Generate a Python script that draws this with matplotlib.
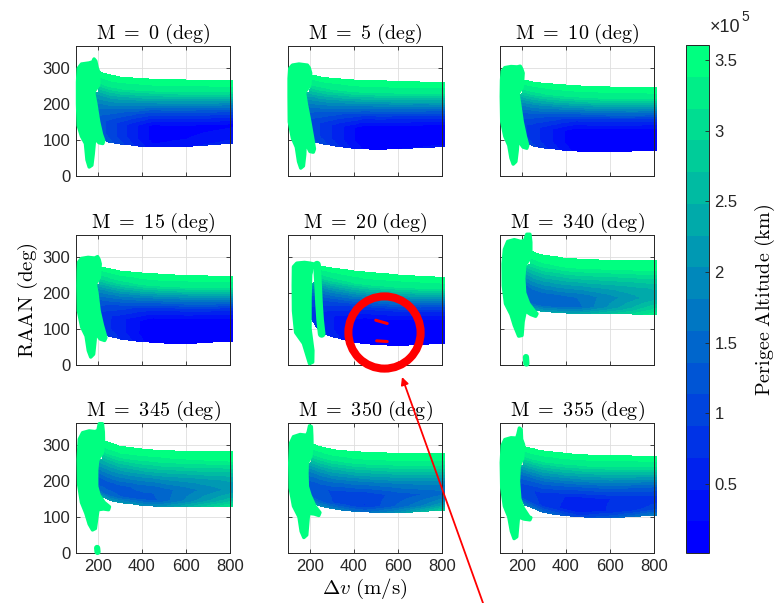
import numpy as np
import matplotlib
matplotlib.use('Agg')
import matplotlib.pyplot as plt
from matplotlib.cm import ScalarMappable
from matplotlib.colors import Normalize

plt.rcParams['mathtext.fontset'] = 'cm'
plt.rcParams['font.family'] = ['Liberation Sans', 'DejaVu Sans']

# panel order: left->right, top->bottom
m_deg = [0, 5, 10, 15, 20, 340, 345, 350, 355]

# cloud boundaries (RAAN, deg) read at these delta-v nodes (m/s)
dv_nodes = [200, 250, 300, 400, 500, 600, 700, 800]
top_raan = [
    [292, 282, 276, 271, 268, 267, 266, 265],
    [282, 276, 272, 267, 265, 263, 262, 260],
    [268, 262, 258, 253, 250, 248, 246, 245],
    [275, 268, 262, 256, 252, 250, 248, 247],
    [280, 276, 270, 262, 256, 251, 247, 244],
    [322, 315, 305, 297, 293, 291, 290, 289],
    [318, 308, 297, 289, 285, 283, 282, 281],
    [305, 296, 288, 282, 279, 277, 276, 276],
    [298, 290, 284, 277, 273, 271, 270, 269],
]
bot_raan = [
    [105, 92, 87, 81, 80, 81, 84, 89],
    [98, 88, 83, 75, 72, 74, 77, 80],
    [92, 82, 76, 70, 66, 66, 68, 71],
    [88, 78, 71, 63, 60, 59, 61, 65],
    [95, 88, 77, 62, 55, 53, 55, 60],
    [175, 152, 146, 143, 143, 142, 140, 140],
    [160, 145, 138, 131, 127, 127, 128, 129],
    [140, 128, 121, 114, 111, 110, 113, 118],
    [135, 122, 110, 102, 97, 96, 99, 104],
]
# left edge of the cloud: RAAN -> delta-v
left_raan = [
    [95, 150, 200, 231, 234, 300],
    [90, 150, 200, 231, 234, 300],
    [80, 150, 200, 226, 229, 300],
    [70, 150, 200, 222, 225, 300],
    [80, 100, 126, 200, 227, 230, 300],
    [140, 165, 200, 240, 275, 280, 340],
    [125, 150, 184, 258, 262, 330],
    [110, 140, 184, 248, 252, 320],
    [95, 130, 151, 198, 240, 244, 310],
]
left_dv = [
    [226, 200, 188, 181, 200, 205],
    [222, 196, 180, 175, 198, 203],
    [230, 198, 186, 182, 200, 205],
    [240, 202, 192, 188, 206, 211],
    [262, 232, 205, 200, 207, 228, 232],
    [268, 235, 215, 210, 215, 235, 240],
    [252, 218, 194, 201, 220, 225],
    [248, 218, 188, 188, 205, 210],
    [245, 212, 191, 185, 188, 205, 210],
]

# perigee altitude (1e5 km) across the cloud, bottom (0) -> top (1)
f_nodes = [0, 0.12, 0.3, 0.48, 0.65, 0.82, 1.0]
alt_left = [
    [1.5, 1.3, 1.3, 1.7, 2.3, 3.2, 3.6],
    [1.3, 1.1, 1.1, 1.5, 2.2, 3.1, 3.6],
    [1.2, 1.0, 1.0, 1.4, 2.1, 3.1, 3.6],
    [1.1, 0.9, 0.9, 1.3, 2.0, 3.0, 3.6],
    [1.0, 0.8, 0.8, 1.2, 1.9, 3.0, 3.6],
    [2.4, 1.5, 1.4, 2.0, 2.6, 3.3, 3.6],
    [2.3, 1.4, 1.3, 1.9, 2.5, 3.3, 3.6],
    [2.1, 1.3, 1.2, 1.7, 2.4, 3.2, 3.6],
    [1.9, 1.1, 1.0, 1.5, 2.3, 3.2, 3.6],
]
alt_mid = [
    [0.3, 0.15, 0.15, 1.0, 2.1, 3.2, 3.6],
    [0.2, 0.05, 0.05, 0.9, 2.0, 3.2, 3.6],
    [0.15, 0.03, 0.03, 0.8, 2.0, 3.2, 3.6],
    [0.1, 0.02, 0.03, 0.75, 1.9, 3.2, 3.6],
    [0.05, 0.02, 0.03, 0.7, 1.9, 3.2, 3.6],
    [2.3, 1.5, 1.6, 2.2, 2.8, 3.4, 3.6],
    [2.0, 1.3, 1.4, 2.0, 2.7, 3.3, 3.6],
    [1.6, 0.9, 1.0, 1.7, 2.5, 3.3, 3.6],
    [1.1, 0.5, 0.6, 1.4, 2.3, 3.2, 3.6],
]
alt_right = [
    [0.6, 0.35, 0.2, 1.0, 2.1, 3.2, 3.6],
    [0.3, 0.1, 0.05, 0.9, 2.0, 3.2, 3.6],
    [0.2, 0.05, 0.03, 0.8, 2.0, 3.2, 3.6],
    [0.15, 0.03, 0.03, 0.75, 1.9, 3.2, 3.6],
    [0.1, 0.02, 0.03, 0.7, 1.9, 3.2, 3.6],
    [3.3, 2.9, 2.4, 2.5, 2.9, 3.4, 3.6],
    [3.2, 2.6, 2.1, 2.3, 2.8, 3.4, 3.6],
    [2.9, 2.1, 1.5, 1.9, 2.6, 3.3, 3.6],
    [1.8, 1.0, 0.8, 1.4, 2.3, 3.2, 3.6],
]

# high-perigee "hook" solutions near dv ~ 100-250 (delta-v, RAAN)
hook_outline = [
    [(110, 298), (125, 310), (160, 313), (176, 316), (182, 324), (190, 318), (196, 300), (205, 285),
     (203, 252), (183, 235), (181, 228), (190, 200), (203, 150), (216, 115), (226, 98), (222, 90),
     (205, 92), (185, 105), (178, 60), (172, 30), (160, 25), (150, 45), (143, 90), (125, 110),
     (110, 140), (107, 200), (107, 260)],
    [(108, 298), (120, 307), (150, 310), (175, 308), (188, 307), (196, 300), (203, 285), (199, 250),
     (178, 234), (175, 231), (183, 200), (199, 150), (212, 105), (220, 75), (215, 66), (200, 68),
     (178, 95), (176, 60), (170, 28), (158, 22), (148, 40), (138, 80), (120, 105), (106, 150),
     (105, 220), (105, 270)],
    [(110, 290), (122, 300), (150, 303), (178, 302), (192, 304), (199, 296), (205, 285), (201, 246),
     (184, 230), (182, 226), (189, 200), (201, 150), (215, 110), (226, 85), (222, 77), (205, 80),
     (182, 100), (178, 70), (172, 40), (160, 33), (150, 50), (140, 85), (122, 110), (108, 150),
     (106, 220), (107, 265)],
    [(112, 285), (125, 295), (155, 298), (185, 296), (198, 300), (205, 292), (210, 280), (206, 242),
     (190, 226), (188, 222), (195, 200), (205, 150), (220, 110), (236, 76), (230, 68), (210, 72),
     (188, 90), (187, 70), (180, 30), (167, 22), (156, 40), (146, 80), (126, 105), (111, 150),
     (109, 220), (110, 260)],
    [(125, 272), (140, 282), (175, 284), (200, 282), (215, 280), (224, 276), (210, 268), (203, 250),
     (200, 180), (200, 100), (213, 40), (212, 8), (198, 4), (185, 30), (170, 60), (135, 90),
     (125, 150), (124, 220)],
    [(120, 320), (135, 342), (165, 347), (195, 342), (212, 345), (222, 362), (236, 362), (240, 340),
     (240, 310), (238, 298), (218, 280), (212, 275), (208, 240), (212, 200), (230, 170), (255, 150),
     (268, 142), (262, 135), (240, 140), (215, 150), (205, 120), (200, 82), (185, 80), (165, 110),
     (150, 140), (125, 170), (115, 220), (114, 280)],
    [(115, 315), (130, 333), (160, 338), (188, 336), (200, 340), (206, 358), (220, 358), (224, 335),
     (225, 305), (220, 278), (204, 263), (198, 255), (194, 230), (194, 184), (205, 160), (228, 140),
     (252, 128), (248, 120), (225, 122), (200, 120), (195, 100), (188, 68), (175, 64), (160, 80),
     (145, 110), (125, 140), (112, 190), (110, 260)],
    [(112, 305), (125, 322), (155, 328), (185, 326), (192, 335), (198, 352), (206, 350), (208, 325),
     (209, 300), (204, 268), (190, 252), (187, 245), (186, 220), (188, 184), (200, 160), (222, 130),
     (245, 112), (240, 104), (220, 108), (195, 110), (192, 100), (185, 50), (172, 43), (160, 60),
     (150, 100), (125, 130), (110, 180), (108, 250)],
    [(110, 298), (122, 314), (150, 319), (176, 318), (182, 330), (188, 346), (196, 342), (198, 315),
     (207, 300), (203, 262), (192, 248), (187, 238), (184, 198), (190, 150), (205, 125), (232, 100),
     (240, 98), (236, 92), (210, 94), (184, 100), (181, 80), (176, 45), (164, 40), (152, 60),
     (140, 100), (120, 130), (108, 180), (106, 250)],
]
# separate right leg (only M = 20) and stray points (M = 340, 345)
hook_strip = [None, None, None, None,
              [(232, 278), (234, 250), (237, 220), (241, 170), (246, 125), (253, 86)],
              None, None, None, None]
hook_dot = [None, None, None, None, None,
            [(218, 22), (220, 4)], [(196, 14), (198, 3)], None, None]

# highlighted solutions in the M = 20 panel
red_dv = [[499, 551], [503, 551]]
red_raan = [[124, 115], [67, 65]]

vmin, vmax = 1.2e3, 3.605e5
cmap = plt.get_cmap('winter', 16)
green = cmap(1.0)
dark = '#262626'

fig = plt.figure(figsize=(7.81, 6.03), dpi=100)
W, H = 781.0, 603.0
col_x = [76, 288, 500]
row_y = [46, 235, 423]
ax_w, ax_h = 154, 130

dv_grid = np.linspace(100, 812, 420)
raan_grid = np.linspace(0, 360, 361)
X, Y = np.meshgrid(dv_grid, raan_grid)

axes = []
for k, m in enumerate(m_deg):
    r, c = divmod(k, 3)
    ax = fig.add_axes([col_x[c] / W, 1 - (row_y[r] + ax_h) / H, ax_w / W, ax_h / H])
    axes.append(ax)

    top = np.interp(X, dv_nodes, top_raan[k])
    bot = np.interp(X, dv_nodes, bot_raan[k])
    f = (Y - bot) / (top - bot)
    left = np.interp(Y, left_raan[k], left_dv[k])
    inside = (f >= 0) & (f <= 1) & (X >= left)
    fc = np.clip(f, 0, 1)
    a_l = np.interp(fc, f_nodes, alt_left[k])
    a_m = np.interp(fc, f_nodes, alt_mid[k])
    a_r = np.interp(fc, f_nodes, alt_right[k])
    t1 = np.clip((X - 200) / 250.0, 0, 1)
    t2 = np.clip((X - 450) / 350.0, 0, 1)
    alt = np.where(X < 450, a_l * (1 - t1) + a_m * t1, a_m * (1 - t2) + a_r * t2) * 1e5
    ax.pcolormesh(dv_grid, raan_grid, np.ma.masked_where(~inside, alt), cmap=cmap,
                  vmin=vmin, vmax=vmax, shading='nearest', clip_on=False, zorder=2)

    hx, hy = zip(*hook_outline[k])
    ax.fill(hx, hy, facecolor=green, edgecolor=green, lw=2.5, joinstyle='round',
            clip_on=False, zorder=3)
    if hook_strip[k] is not None:
        sx, sy = zip(*hook_strip[k])
        ax.plot(sx, sy, color=green, lw=5.5, solid_capstyle='round', solid_joinstyle='round',
                clip_on=False, zorder=3)
    if hook_dot[k] is not None:
        dx, dy = zip(*hook_dot[k])
        ax.plot(dx, dy, color=green, lw=4.5, solid_capstyle='round', clip_on=False, zorder=3)

    ax.set_xlim(100, 800)
    ax.set_ylim(0, 360)
    ax.set_xticks([200, 400, 600, 800])
    ax.set_yticks([0, 100, 200, 300])
    ax.grid(True, color='#dedede', lw=0.6)
    ax.set_axisbelow(True)
    ax.tick_params(direction='in', length=3, width=0.6, top=True, right=True,
                   colors=dark, labelsize=12, pad=4)
    if r != 2:
        ax.set_xticklabels([])
    if c != 0:
        ax.set_yticklabels([])
    for s in ax.spines.values():
        s.set_linewidth(0.7)
        s.set_color(dark)
    ax.set_title(r'$\mathrm{M\ =\ %d\ (deg)}$' % m, fontsize=14.5, pad=5)

# annotation in the M = 20 panel
ax20 = axes[4]
for xs, ys in zip(red_dv, red_raan):
    ax20.plot(xs, ys, color='red', lw=2.2, solid_capstyle='round', zorder=5)
ax20.plot([536], [91], marker='o', ms=52, mfc='none', mec='red', mew=5.8,
          clip_on=False, zorder=6)
fig.add_artist(matplotlib.patches.FancyArrowPatch(
    (483 / W, 0.0), (402 / W, 1 - 377 / H), transform=fig.transFigure,
    arrowstyle='-|>', mutation_scale=11, color='red', lw=1.3, shrinkA=0, shrinkB=0))

# colorbar
cax = fig.add_axes([686 / W, 1 - 553 / H, 23 / W, 508 / H])
sm = ScalarMappable(norm=Normalize(vmin, vmax), cmap=cmap)
cb = fig.colorbar(sm, cax=cax)
cb.set_ticks([0.5e5, 1e5, 1.5e5, 2e5, 2.5e5, 3e5, 3.5e5])
cb.set_ticklabels(['0.5', '1', '1.5', '2', '2.5', '3', '3.5'])
cax.tick_params(direction='in', length=3, width=0.6, colors=dark, labelsize=12, pad=4)
cb.outline.set_linewidth(0.7)
cb.outline.set_edgecolor(dark)
fig.text(710 / W, 1 - 32 / H, '×10', fontsize=13, color=dark, va='baseline')
fig.text(741 / W, 1 - 21 / H, '5', fontsize=10, color=dark, va='baseline')

fig.text(765 / W, 1 - 300 / H, r'$\mathrm{Perigee\ Altitude\ (km)}$', rotation=90,
         ha='center', va='center', fontsize=14.5)
fig.text(28 / W, 1 - 300 / H, r'$\mathrm{RAAN\ (deg)}$', rotation=90,
         ha='center', va='center', fontsize=15)
fig.text(365 / W, 1 - 589 / H, r'$\Delta v\ \mathrm{(m/s)}$', ha='center', va='center',
         fontsize=15)

fig.savefig('out.png', dpi=100)
